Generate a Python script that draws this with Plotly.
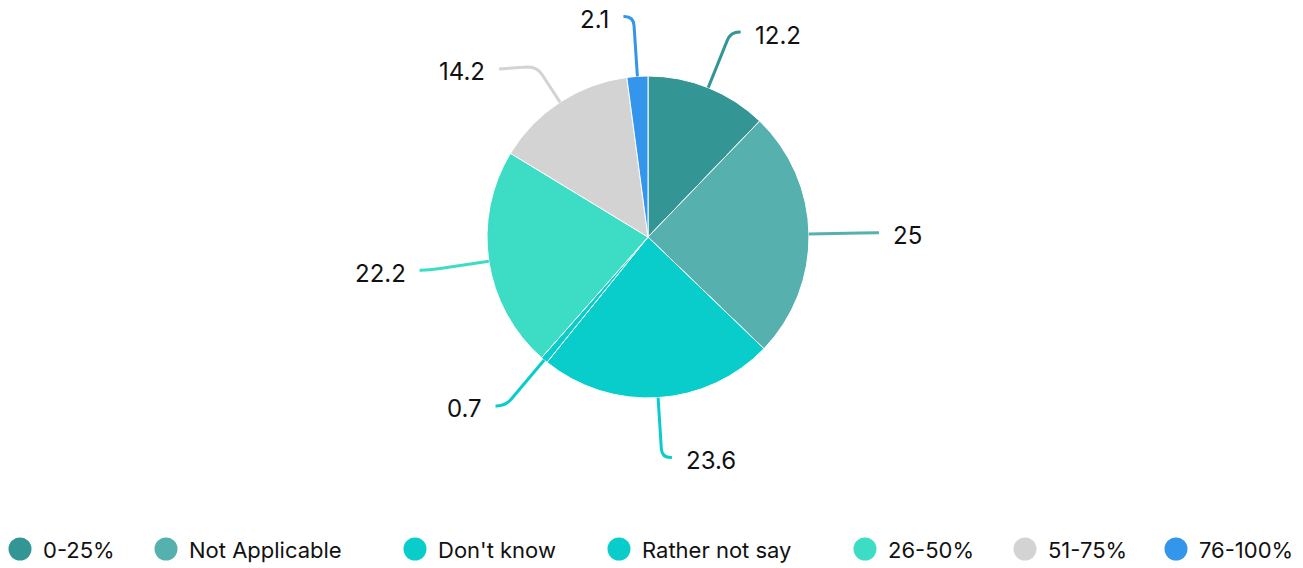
import math
import plotly.graph_objects as go

# Survey answer shares (percent)
labels = ["0-25%", "Not Applicable", "Don't know", "Rather not say", "26-50%", "51-75%", "76-100%"]
values = [12.2, 25, 23.6, 0.7, 22.2, 14.2, 2.1]
colors = ["#339594", "#56b0ae", "#09cdca", "#09cdca", "#3ddcc4", "#d3d3d3", "#3396ea"]

W, H = 1303, 568
CX, CY, R = 648, 237, 161          # pie centre and radius in pixels
L1, L2, GAP = 60, 10, 12           # leader line: radial part, horizontal part, gap to text
FONT = "Inter"

# per-slice leader tweaks so labels don't crowd each other
leader_override = {"51-75%": dict(l1=42, l2=38, dy=2)}

# legend item x positions (pixels) and row centre
legend_x = [20, 166, 415, 619, 865, 1025, 1176]
legend_y = 549


def px(x):
    return x / W


def py(y):
    return 1 - y / H


fig = go.Figure(
    go.Pie(
        labels=labels,
        values=values,
        sort=False,
        direction="clockwise",
        rotation=0,
        marker=dict(colors=colors, line=dict(color="white", width=1)),
        textinfo="none",
        hoverinfo="label+value",
        showlegend=False,
        domain=dict(x=[px(CX - R), px(CX + R)], y=[py(CY + R), py(CY - R)]),
    )
)

shapes = []
annotations = []
total = sum(values)
cum = 0.0
for lab, v, c in zip(labels, values, colors):
    mid = (cum + v / 2) / total * 2 * math.pi
    cum += v
    ov = leader_override.get(lab, {})
    l1, l2, tail = ov.get("l1", L1), ov.get("l2", L2), ov.get("dy", 0)
    dx, dy = math.sin(mid), -math.cos(mid)
    ex, ey = CX + R * dx, CY + R * dy
    kx, ky = CX + (R + l1) * dx, CY + (R + l1) * dy
    side = 1 if dx >= 0 else -1
    hx = kx + side * l2
    rr = 9
    ax_, ay_ = kx - rr * dx, ky - rr * dy
    bx_ = kx + side * min(rr, l2 - 1)
    path = (
        f"M{px(ex)},{py(ey)} L{px(ax_)},{py(ay_)} "
        f"Q{px(kx)},{py(ky)} {px(bx_)},{py(ky)} L{px(hx)},{py(ky + tail)}"
    )
    shapes.append(dict(type="path", xref="paper", yref="paper", path=path,
                       line=dict(color=c, width=3)))
    annotations.append(dict(
        x=px(hx + side * GAP), y=py(ky + tail + 3), xref="paper", yref="paper",
        text=f"{v:g}", showarrow=False,
        xanchor="left" if side > 0 else "right", yanchor="middle",
        font=dict(family=FONT, size=24, color="#111111"),
    ))

# legend drawn as circle markers plus text
for lab, c, lx in zip(labels, colors, legend_x):
    rad = 11.5
    shapes.append(dict(type="circle", xref="paper", yref="paper",
                       x0=px(lx - rad), x1=px(lx + rad),
                       y0=py(legend_y + rad), y1=py(legend_y - rad),
                       fillcolor=c, line=dict(width=0)))
    annotations.append(dict(
        x=px(lx + 21), y=py(legend_y + 1), xref="paper", yref="paper",
        text=lab, showarrow=False, xanchor="left", yanchor="middle",
        font=dict(family=FONT, size=22, color="#111111"),
    ))

fig.update_layout(
    width=W, height=H,
    margin=dict(l=0, r=0, t=0, b=0),
    paper_bgcolor="white", plot_bgcolor="white",
    shapes=shapes, annotations=annotations,
    showlegend=False,
)

fig.write_html("out.html")
